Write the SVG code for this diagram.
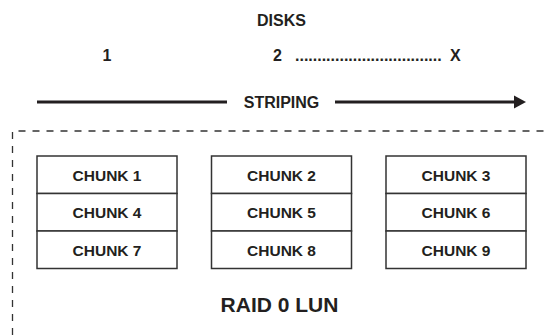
<svg xmlns="http://www.w3.org/2000/svg" width="544" height="335" viewBox="0 0 544 335">
  <style>
    .t { font-family: "Liberation Sans", Arial, sans-serif; font-weight: bold; fill: #231f20; }
    .lbl { font-size: 16px; text-anchor: middle; }
    .chunk rect { fill: #ffffff; stroke: #333333; stroke-width: 1.5; }
    .chunk text { font-family: "Liberation Sans", Arial, sans-serif; font-weight: bold; font-size: 15.5px; fill: #231f20; text-anchor: middle; }
    .border { fill: none; stroke: #333333; stroke-width: 1.3; stroke-dasharray: 7 7; }
  </style>
  <rect width="544" height="335" fill="#ffffff"/>

  <g id="disks-header">
    <text class="t lbl" x="281.5" y="26">DISKS</text>
    <text class="t lbl" x="107" y="61">1</text>
    <text class="t" font-size="16" y="61"><tspan x="273">2</tspan><tspan x="294"> </tspan><tspan x="295">.................................</tspan><tspan x="450">X</tspan></text>
  </g>

  <g id="connectors">
    <line x1="37" y1="102" x2="227" y2="102" stroke="#231f20" stroke-width="3"/>
    <line x1="335" y1="102" x2="516" y2="102" stroke="#231f20" stroke-width="3"/>
    <polygon points="514,95.5 526,102 514,108.5" fill="#231f20"/>
  </g>
  <g id="striping-label">
    <text class="t lbl" x="281.5" y="108">STRIPING</text>
  </g>

  <g id="raid0-lun">
    <path class="border" d="M12.5,335 L12.5,131 L544,131"/>
    <text class="t" font-size="21" text-anchor="middle" x="279.5" y="312">RAID 0 LUN</text>
  </g>

  <g id="disk1" class="chunk">
    <rect x="37" y="156" width="140" height="37.5"/>
    <rect x="37" y="193.5" width="140" height="37.5"/>
    <rect x="37" y="231" width="140" height="37.5"/>
    <text x="107" y="180.5">CHUNK 1</text>
    <text x="107" y="218">CHUNK 4</text>
    <text x="107" y="255.5">CHUNK 7</text>
  </g>
  <g id="disk2" class="chunk">
    <rect x="211.5" y="156" width="140" height="37.5"/>
    <rect x="211.5" y="193.5" width="140" height="37.5"/>
    <rect x="211.5" y="231" width="140" height="37.5"/>
    <text x="281.5" y="180.5">CHUNK 2</text>
    <text x="281.5" y="218">CHUNK 5</text>
    <text x="281.5" y="255.5">CHUNK 8</text>
  </g>
  <g id="disk3" class="chunk">
    <rect x="386" y="156" width="140" height="37.5"/>
    <rect x="386" y="193.5" width="140" height="37.5"/>
    <rect x="386" y="231" width="140" height="37.5"/>
    <text x="456" y="180.5">CHUNK 3</text>
    <text x="456" y="218">CHUNK 6</text>
    <text x="456" y="255.5">CHUNK 9</text>
  </g>
</svg>
